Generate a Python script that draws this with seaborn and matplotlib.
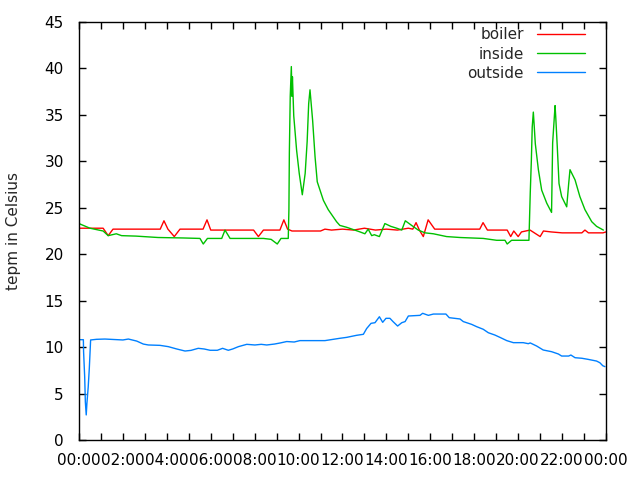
import matplotlib
matplotlib.use("Agg")
import matplotlib.pyplot as plt
import pandas as pd
import seaborn as sns

# hours since midnight, temperatures
boiler_h = [0.0, 1.1, 1.33, 1.55, 3.7, 3.87, 4.05, 4.34, 4.6, 5.65, 5.83, 6.0, 7.95, 8.17, 8.4,
            9.15, 9.33, 9.5, 9.7, 11.0, 11.2, 11.5, 12.0, 12.5, 13.0, 13.5, 14.0, 14.5, 15.0, 15.2,
            15.35, 15.5, 15.68, 15.9, 16.2, 18.25, 18.4, 18.6, 19.5, 19.66, 19.8, 20.0, 20.15,
            20.54, 21.0, 21.15, 21.5, 22.0, 22.9, 23.04, 23.2, 23.86, 24.0]
boiler_t = [22.8, 22.8, 22.0, 22.7, 22.7, 23.6, 22.7, 21.9, 22.7, 22.7, 23.7, 22.6, 22.6, 21.9, 22.6,
            22.6, 23.7, 22.7, 22.5, 22.5, 22.7, 22.6, 22.7, 22.6, 22.8, 22.6, 22.7, 22.6, 22.8, 22.7,
            23.4, 22.6, 21.9, 23.7, 22.7, 22.7, 23.4, 22.6, 22.6, 21.9, 22.5, 21.9, 22.4,
            22.6, 21.9, 22.5, 22.4, 22.3, 22.3, 22.6, 22.3, 22.3, 22.4]

inside_h = [0.0, 0.5, 1.1, 1.33, 1.7, 1.94, 2.6, 3.6, 4.74, 5.51, 5.66, 5.85, 6.5, 6.65, 6.88,
            8.4, 8.75, 9.03, 9.2, 9.53, 9.56, 9.58, 9.62, 9.67, 9.7, 9.72, 9.78, 9.91, 10.03,
            10.17, 10.3, 10.39, 10.46, 10.52, 10.64, 10.75, 10.85, 11.13, 11.35, 11.73, 11.88,
            12.19, 12.8, 13.02, 13.17, 13.33, 13.45, 13.68, 13.93, 14.2, 14.47, 14.7, 14.86,
            15.15, 15.45, 15.76, 16.14, 16.74, 17.35, 18.41, 19.02, 19.4, 19.5, 19.7, 20.49,
            20.55, 20.6, 20.64, 20.69, 20.72, 20.78, 20.92, 21.07, 21.3, 21.52, 21.57, 21.68,
            21.71, 21.78, 21.86, 21.98, 22.21, 22.3, 22.36, 22.59, 22.81, 23.04, 23.35, 23.57,
            23.88]
inside_t = [23.3, 22.8, 22.5, 22.0, 22.2, 22.0, 21.95, 21.8, 21.75, 21.7, 21.1, 21.7, 21.7, 22.6, 21.7,
            21.7, 21.6, 21.1, 21.7, 21.7, 24.8, 30.9, 37.0, 40.2, 37.0, 39.1, 34.9, 31.2, 28.7,
            26.4, 28.7, 32.1, 36.2, 37.7, 34.4, 30.5, 27.8, 25.8, 24.8, 23.5, 23.1,
            22.9, 22.4, 22.2, 22.7, 22.0, 22.1, 21.9, 23.3, 23.0, 22.8, 22.6, 23.6,
            23.1, 22.6, 22.3, 22.2, 21.9, 21.8, 21.7, 21.5, 21.5, 21.1, 21.5, 21.5,
            26.6, 30.1, 33.7, 35.3, 34.2, 31.9, 29.1, 26.9, 25.5, 24.5, 32.0, 36.0,
            34.8, 31.6, 27.6, 26.2, 25.1, 27.6, 29.1, 28.0, 26.2, 24.8, 23.5, 23.0,
            22.6]

outside_h = [0.0, 0.2, 0.21, 0.26, 0.29, 0.33, 0.36, 0.42, 0.47, 0.53, 0.8, 1.18, 2.0, 2.25, 2.63,
             2.93, 3.16, 3.69, 4.07, 4.45, 4.83, 5.1, 5.43, 5.7, 5.97, 6.3, 6.54, 6.8, 7.0, 7.26,
             7.64, 8.01, 8.3, 8.55, 8.9, 9.15, 9.46, 9.8, 10.06, 10.6, 11.2, 11.58, 11.88, 12.19,
             12.64, 12.95, 13.1, 13.3, 13.48, 13.68, 13.83, 13.98, 14.16, 14.3, 14.51, 14.7, 14.85,
             15.0, 15.53, 15.65, 15.91, 16.14, 16.71, 16.86, 17.35, 17.5, 17.88, 18.11, 18.41,
             18.64, 18.94, 19.17, 19.48, 19.78, 20.23, 20.46, 20.55, 20.84, 21.14, 21.52, 21.83,
             21.98, 22.3, 22.4, 22.59, 22.9, 23.19, 23.57, 23.72, 23.85, 23.95]
outside_t = [10.8, 10.8, 9.5, 6.8, 4.1, 2.7, 3.9, 5.7, 7.7, 10.77, 10.84, 10.87, 10.77, 10.87, 10.65,
             10.33, 10.23, 10.19, 10.05, 9.8, 9.58, 9.65, 9.87, 9.8, 9.66, 9.66, 9.87, 9.66, 9.8, 10.05,
             10.3, 10.23, 10.3, 10.23, 10.33, 10.44, 10.6, 10.55, 10.7, 10.7, 10.7, 10.84, 10.95, 11.05,
             11.27, 11.38, 12.0, 12.56, 12.63, 13.27, 12.67, 13.1, 13.1, 12.75, 12.27, 12.63, 12.75,
             13.35, 13.42, 13.64, 13.42, 13.56, 13.56, 13.17, 13.03, 12.75, 12.45, 12.2, 11.92,
             11.55, 11.3, 11.05, 10.7, 10.48, 10.48, 10.37, 10.45, 10.12, 9.69, 9.51, 9.26,
             9.04, 9.04, 9.15, 8.86, 8.8, 8.68, 8.5, 8.32, 8.0, 7.9]

hour_ticks = list(range(0, 25, 2))
hour_labels = ["00:00", "02:00", "04:00", "06:00", "08:00", "10:00", "12:00",
               "14:00", "16:00", "18:00", "20:00", "22:00", "00:00"]

df = pd.concat([
    pd.DataFrame({"hour": boiler_h, "temp": boiler_t, "sensor": "boiler"}),
    pd.DataFrame({"hour": inside_h, "temp": inside_t, "sensor": "inside"}),
    pd.DataFrame({"hour": outside_h, "temp": outside_t, "sensor": "outside"}),
])

sns.set_style("ticks")
plt.rcParams["font.family"] = ["DejaVu Sans"]

fig = plt.figure(figsize=(6.4, 4.8), dpi=100)
ax = fig.add_axes([0.1234, 0.0833, 0.8235, 0.8709])

colors = {"boiler": "#ff0000", "inside": "#00c000", "outside": "#0080ff"}
sns.lineplot(data=df, x="hour", y="temp", hue="sensor", palette=colors,
             estimator=None, sort=False, linewidth=1.0, ax=ax)

ax.set_xlim(0, 24)
ax.set_ylim(0, 45)
ax.set_xticks(hour_ticks)
ax.set_xticklabels(hour_labels)
ax.set_xticks(range(1, 24, 2), minor=True)
ax.set_yticks(range(0, 46, 5))
ax.tick_params(which="both", direction="in", top=True, right=True, length=5,
               width=1, labelsize=11, colors="black")
ax.tick_params(axis="x", pad=9)
ax.tick_params(axis="y", pad=11)
for s in ax.spines.values():
    s.set_linewidth(1)
    s.set_color("black")
ax.set_xlabel("")
ax.set_ylabel("tepm in Celsius", fontsize=11)
ax.yaxis.set_label_coords(-0.110, 0.5)

leg = ax.legend(loc="upper right", bbox_to_anchor=(0.960, 0.987), frameon=False,
                markerfirst=False, fontsize=11, handlelength=3.15, handletextpad=0.85,
                labelspacing=0.27, borderpad=0, borderaxespad=0, title=None)
for t in leg.get_texts():
    t.set_ha("right")

fig.savefig("out.png", dpi=100)
